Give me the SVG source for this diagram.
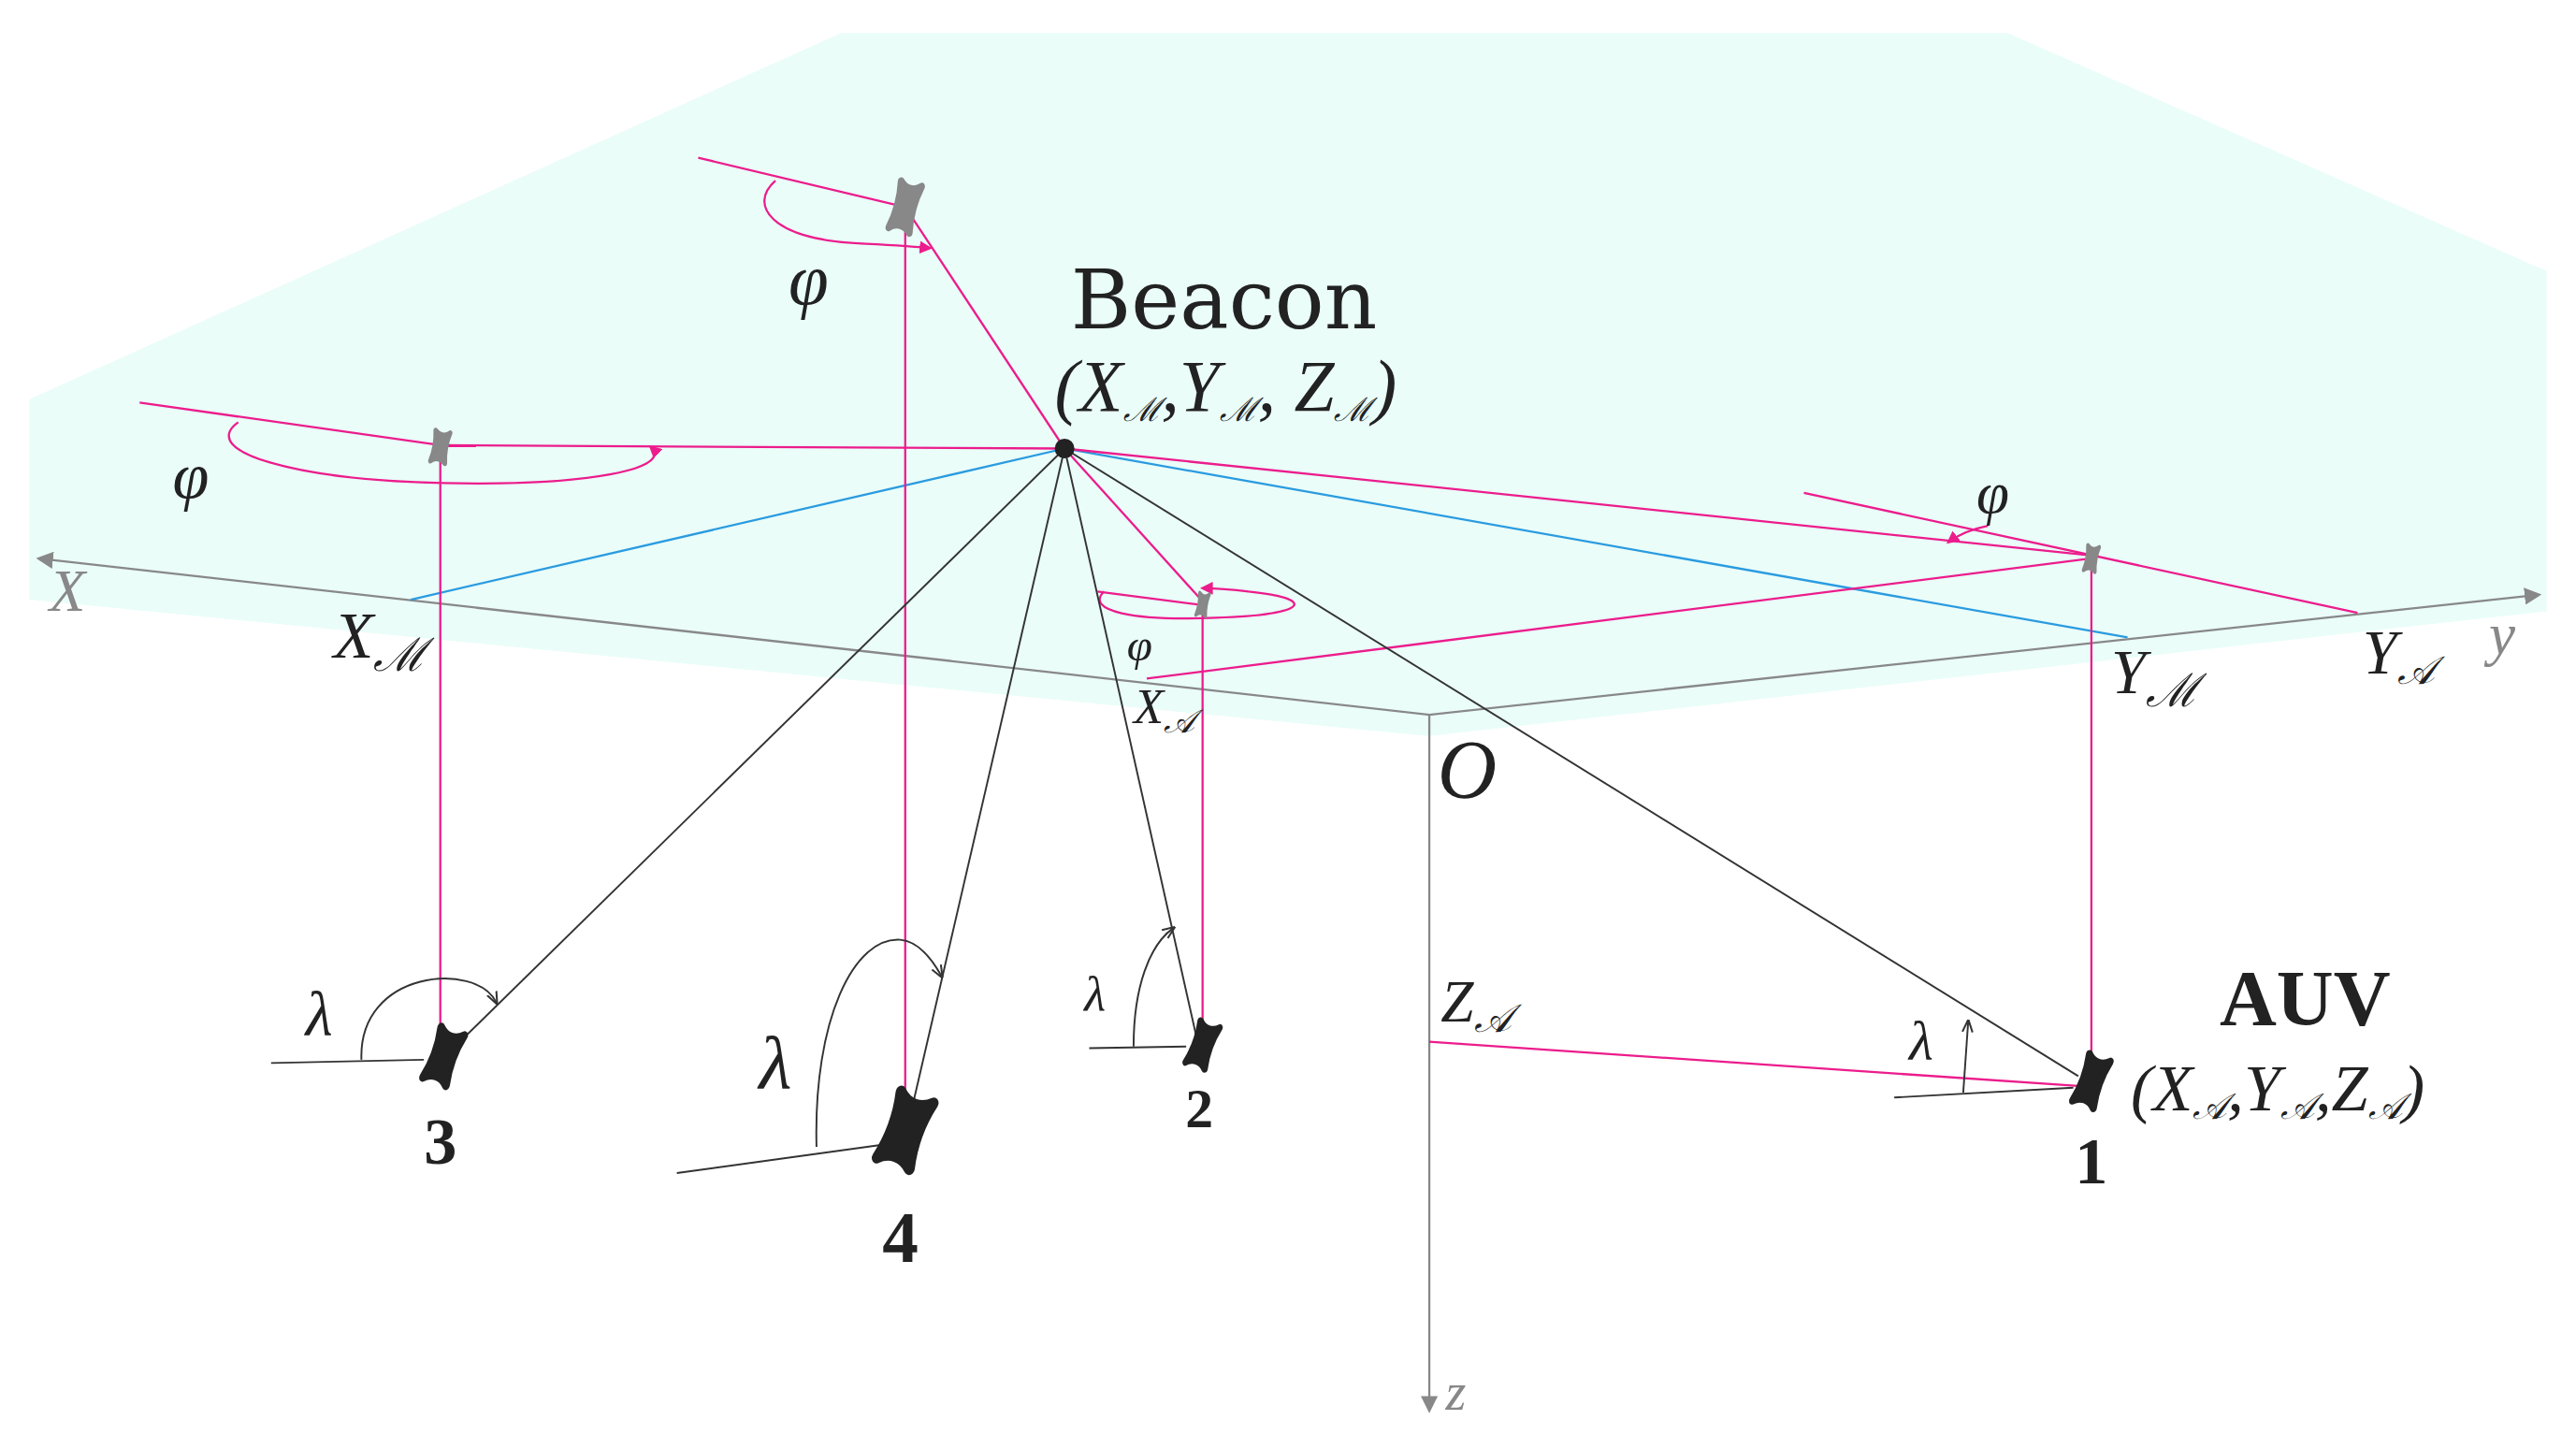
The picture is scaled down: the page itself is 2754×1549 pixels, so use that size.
<svg xmlns="http://www.w3.org/2000/svg" width="2754" height="1549" viewBox="0 0 2754 1549">
<defs>
<style>
.pk{stroke:#ec1c8c;stroke-width:1.3;fill:none}
.bl{stroke:#2a9be0;stroke-width:1.3;fill:none}
.bk{stroke:#333;stroke-width:1.1;fill:none}
.ax{stroke:#888;stroke-width:1.3;fill:none}
.it{font-family:"Liberation Serif",serif;font-style:italic;fill:#222}
.gr{font-family:"Liberation Serif",serif;font-style:italic;fill:#888}
.bd{font-family:"Liberation Serif",serif;font-weight:bold;fill:#222;text-anchor:middle}
.rm{font-family:"DejaVu Serif",serif;fill:#222;text-anchor:middle}
.gb{fill:#888;stroke:#888;stroke-width:6;stroke-linejoin:round}
.kb{fill:#222;stroke:#222;stroke-width:6;stroke-linejoin:round}
</style>
<path id="blob" d="M-10,-17 C-4,-12 4,-12 10,-17 C7,-6 7,6 10,17 C4,12 -4,12 -10,17 C-7,6 -7,-6 -10,-17 Z"/>
<marker id="ap" viewBox="0 0 10 10" refX="8" refY="5" markerWidth="6" markerHeight="6" orient="auto"><path d="M0,0L10,5L0,10z" fill="#ec1c8c"/></marker>
<marker id="ak" viewBox="0 0 10 10" refX="8" refY="5" markerWidth="7" markerHeight="7" orient="auto"><path d="M0,1L10,5L0,9" fill="none" stroke="#333" stroke-width="1.5"/></marker>
<marker id="ag" viewBox="0 0 10 10" refX="8" refY="5" markerWidth="8" markerHeight="8" orient="auto"><path d="M0,0L10,5L0,10z" fill="#888"/></marker>
</defs>
<rect width="2754" height="1549" fill="#fff"/>
<g transform="scale(1.7564)">
<g id="plane">
<polygon points="18,243 512,20 1222,20 1550,165 1550,372 870,448 18,365" fill="#eafdf9"/>
</g>
<g id="axes">
<line class="ax" x1="870" y1="435" x2="24" y2="340" marker-end="url(#ag)"/>
<line class="ax" x1="870" y1="435" x2="1545" y2="362" marker-end="url(#ag)"/>
<line class="ax" x1="870" y1="435" x2="870" y2="858" marker-end="url(#ag)"/>
<text class="gr" x="30" y="372" font-size="36">X</text>
<text class="gr" x="1515" y="398" font-size="36">y</text>
<text class="gr" x="880" y="858" font-size="32">z</text>
<text class="it" x="875" y="485" font-size="50">O</text>
</g>
<g id="connectors">
<line class="bl" x1="648" y1="273" x2="250" y2="365"/>
<line class="bl" x1="648" y1="273" x2="1295" y2="388"/>
<line class="pk" x1="648" y1="273" x2="268" y2="271"/>
<line class="pk" x1="268" y1="271" x2="85" y2="245"/>
<path class="pk" d="M145,257 C120,275 180,292 270,294 C360,296 410,285 396,272" marker-end="url(#ap)"/>
<line class="pk" x1="268" y1="271" x2="268" y2="640"/>
<line class="pk" x1="425" y1="96" x2="551" y2="126"/>
<line class="pk" x1="551" y1="126" x2="648" y2="273"/>
<path class="pk" d="M472,110 C455,125 470,145 520,148 C540,149 555,150 566,151" marker-end="url(#ap)"/>
<line class="pk" x1="551" y1="126" x2="551" y2="688"/>
<line class="pk" x1="648" y1="273" x2="732" y2="366"/>
<path class="pk" d="M672,360 C660,372 690,378 740,376 C800,374 800,364 760,360 C745,358 738,358 732,358" marker-end="url(#ap)"/>
<line class="pk" x1="668" y1="360" x2="730" y2="368"/>
<line class="pk" x1="732" y1="368" x2="732" y2="630"/>
<line class="pk" x1="698" y1="413" x2="1272" y2="340"/>
<line class="pk" x1="648" y1="273" x2="1272" y2="338"/>
<line class="pk" x1="1098" y1="300" x2="1435" y2="373"/>
<path class="pk" d="M1210,320 Q1195,323 1186,330" marker-end="url(#ap)"/>
<line class="pk" x1="1273" y1="340" x2="1273" y2="650"/>
<line class="pk" x1="870" y1="634" x2="1265" y2="661"/>
<line class="bk" x1="648" y1="273" x2="282" y2="632"/>
<line class="bk" x1="648" y1="273" x2="555" y2="675"/>
<line class="bk" x1="648" y1="273" x2="728" y2="630"/>
<line class="bk" x1="648" y1="273" x2="1265" y2="655"/>
<line class="bk" x1="165" y1="647" x2="258" y2="645"/>
<path class="bk" d="M220,645 C218,590 290,585 302,610" marker-end="url(#ak)"/>
<line class="bk" x1="412" y1="714" x2="535" y2="697"/>
<path class="bk" d="M497,698 C495,620 520,570 548,572 C560,573 568,585 573,594" marker-end="url(#ak)"/>
<line class="bk" x1="663" y1="638" x2="722" y2="637"/>
<path class="bk" d="M690,637 C690,600 700,575 714,565" marker-end="url(#ak)"/>
<line class="bk" x1="1153" y1="668" x2="1262" y2="662"/>
<path class="bk" d="M1195,665 L1198,622" marker-end="url(#ak)"/>
</g>
<g id="beacon">
<circle cx="648" cy="273" r="6" fill="#222"/>
<text class="rm" x="745" y="200" font-size="50">Beacon</text>
<text class="it" x="642" y="250" font-size="44">(X<tspan font-size="20" dy="6">ℳ</tspan><tspan dy="-6">,Y</tspan><tspan font-size="20" dy="6">ℳ</tspan><tspan dy="-6">, Z</tspan><tspan font-size="20" dy="6">ℳ</tspan><tspan dy="-6">)</tspan></text>
</g>
<g id="s3"><use href="#blob" class="gb" transform="translate(268,272) rotate(10) scale(0.45,0.55)"/><use href="#blob" class="kb" transform="translate(270,643) rotate(20) scale(0.75,0.95)"/><text class="bd" x="268" y="708" font-size="40">3</text><text class="it" x="105" y="303" font-size="40">φ</text><text class="it" x="186" y="630" font-size="38">λ</text></g>
<g id="s4"><use href="#blob" class="gb" transform="translate(551,126) rotate(15) scale(0.65,0.85)"/><use href="#blob" class="kb" transform="translate(551,688) rotate(20) scale(1.05,1.25)"/><text class="bd" x="548" y="768" font-size="44">4</text><text class="it" x="480" y="185" font-size="44">φ</text><text class="it" x="462" y="662" font-size="46">λ</text></g>
<g id="s2"><use href="#blob" class="gb" transform="translate(732,368) rotate(10) scale(0.3,0.4)"/><use href="#blob" class="kb" transform="translate(732,636) rotate(20) scale(0.62,0.78)"/><text class="bd" x="730" y="686" font-size="34">2</text><text class="it" x="686" y="402" font-size="28">φ</text><text class="it" x="660" y="615" font-size="30">λ</text></g>
<g id="s1"><use href="#blob" class="gb" transform="translate(1273,340) rotate(10) scale(0.35,0.45)"/><use href="#blob" class="kb" transform="translate(1273,658) rotate(20) scale(0.68,0.88)"/><text class="bd" x="1273" y="720" font-size="40">1</text><text class="it" x="1203" y="312" font-size="36">φ</text><text class="it" x="1162" y="645" font-size="34">λ</text>
<text class="bd" x="1403" y="624" font-size="48">AUV</text>
<text class="it" x="1297" y="676" font-size="40">(X<tspan font-size="22" dy="5">𝒜</tspan><tspan dy="-5">,Y</tspan><tspan font-size="22" dy="5">𝒜</tspan><tspan dy="-5">,Z</tspan><tspan font-size="22" dy="5">𝒜</tspan><tspan dy="-5">)</tspan></text></g>
<g id="labels">
<text class="it" x="203" y="400" font-size="40">X<tspan font-size="28" dy="8">ℳ</tspan></text>
<text class="it" x="1285" y="422" font-size="38">Y<tspan font-size="28" dy="8">ℳ</tspan></text>
<text class="it" x="1438" y="410" font-size="38">Y<tspan font-size="24" dy="6">𝒜</tspan></text>
<text class="it" x="690" y="440" font-size="30">X<tspan font-size="20" dy="6">𝒜</tspan></text>
<text class="it" x="877" y="622" font-size="36">Z<tspan font-size="24" dy="6">𝒜</tspan></text>
</g>
</g>
</svg>
